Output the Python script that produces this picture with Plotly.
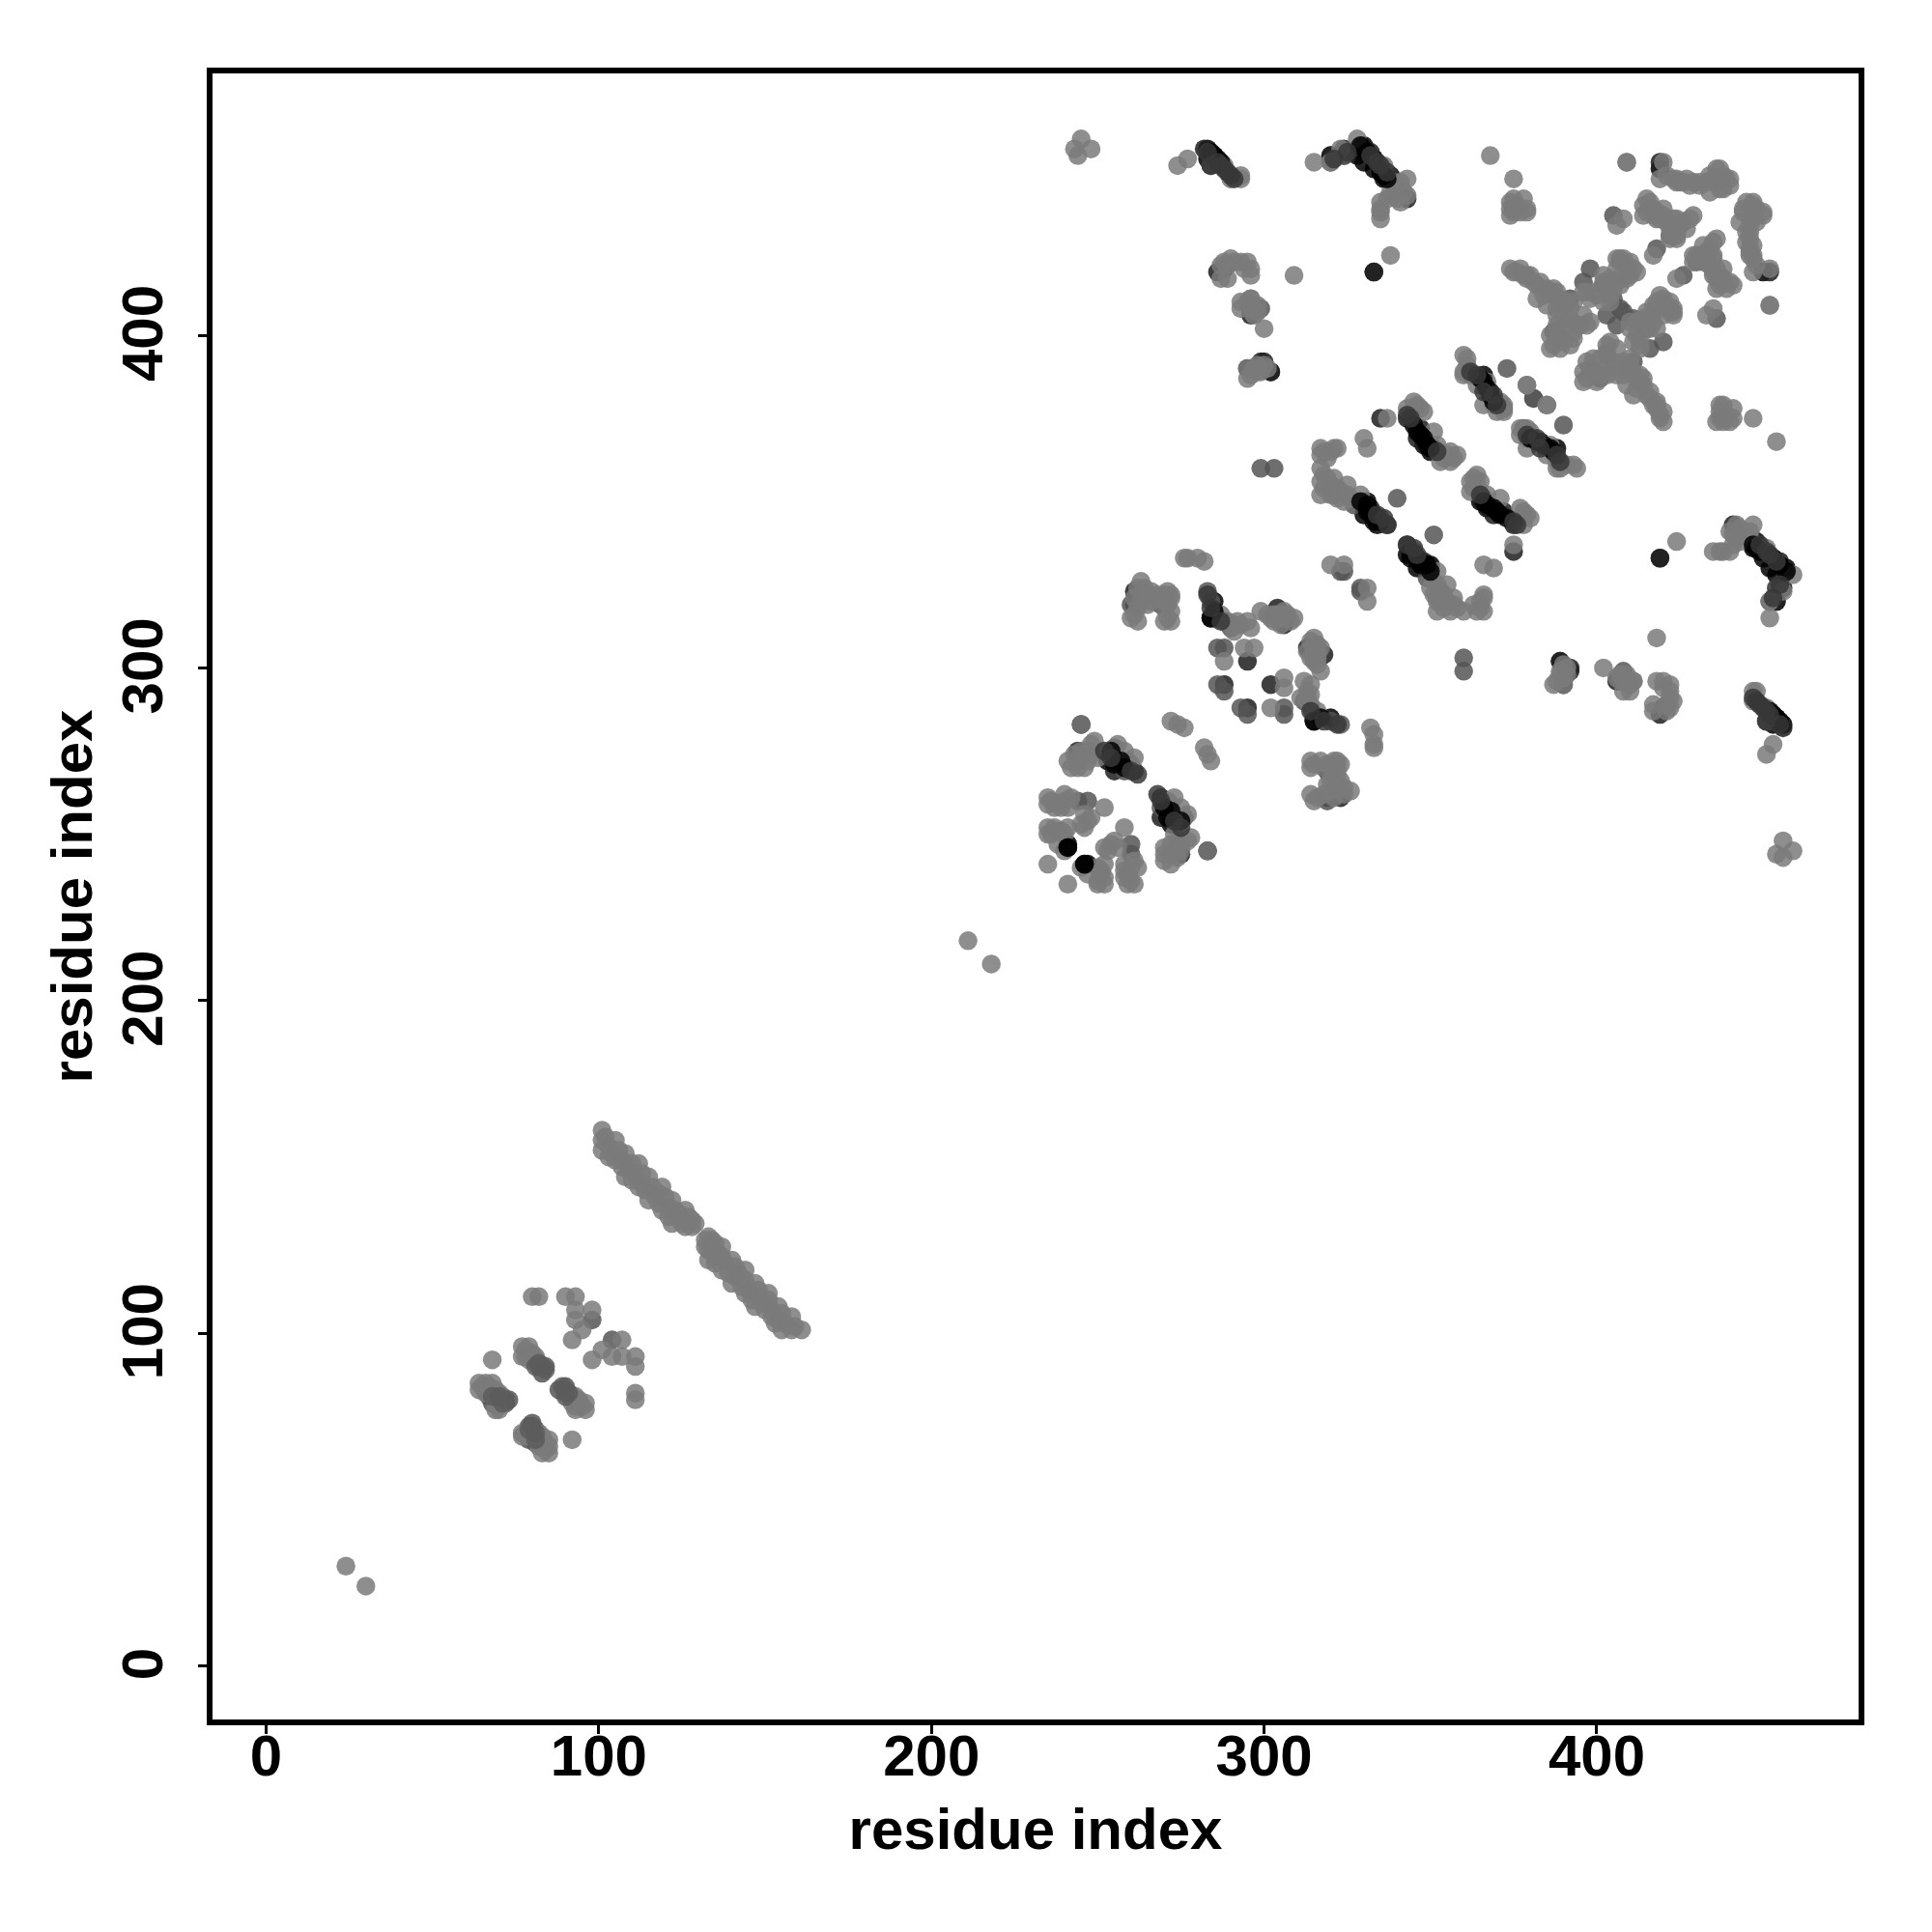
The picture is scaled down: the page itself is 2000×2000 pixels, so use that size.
import plotly.graph_objects as go

tick_values = [0, 100, 200, 300, 400]
axis_title = "residue index"

# Contacts are read from one side of the diagonal; the map is symmetric.
light_i = [24,101,101,101,103,105,105,106,108,108,110,112,112,113,115,115,116,119,119,120,122,122,124,126,125,128,127,
           80,82,90,93,93,98,93,95,92,68,77,79,77,79,80,64,66,68,64,66,69,69,70,
           211,277,280,282,276,263,265,271,271,271,265,260,288,293,295,299,306,309,302,288,294,297,
           245,241,248,247,244,258,261,235,235,240,242,238,252,235,235,241,247,246,235,239,272,274,276,
           248,245,244,243,277,274,288,290,293,293,315,320,323,328,336,339,343,339,343,335,335,335,338,309,
           288,290,293,295,296,296,297,296,300,295,295,297,293,
           317,321,317,330,331,317,317,317,321,325,324,329,335,337,343,346,345,351,352,355,358,353,356,
           360,367,371,366,379,385,320,324,
           368,375,374,375,379,409,419,424,427,431,435,437,440,437,
           416,415,418,423,429,425,423,408,406,417,406,408,411,405,402,402,396,
           374,378,381,385,388,382,391,388,391,395,398,389,386,393,360,360,409,375,379]
light_j = [30,161,158,155,156,158,152,155,154,147,151,151,144,148,147,140,144,144,137,141,140,133,136,137,133,134,135,
           111,111,111,111,107,107,104,101,98,92,96,96,93,92,94,85,85,85,83,83,83,77,78,
           218,333,333,332,333,326,322,323,319,315,319,315,314,313,314,317,317,315,315,302,306,306,
           283,272,277,272,272,275,273,261,259,262,261,259,258,252,250,252,254,252,241,251,284,283,282,
           456,459,454,456,453,451,451,447,447,448,452,452,456,459,451,446,447,442,442,440,437,435,424,418,
           422,423,422,422,418,411,408,411,402,390,387,390,408,
           366,366,364,369,366,360,356,352,357,355,350,352,345,375,378,379,380,371,367,364,364,362,362,
           388,386,380,379,385,379,331,331,
           454,447,440,437,437,452,447,446,447,445,447,450,447,444,
           440,437,437,435,436,433,430,435,433,424,423,423,420,414,416,410,413,
           420,418,416,414,413,411,410,403,403,403,404,396,396,401,394,389,452,438,438]

mid_i = [81,82,84,83,67,70,72,71,73,68,98,
         283,260,284,247,244,286,286,288,286,288,255,258,
         290,284,284,299,303,396,398,402,405,407,
         284,320,324,324,296,299,323,
         321,327,340,378,390,381,
         387,418,422,411,403,436]
mid_j = [92,90,90,88,81,80,79,81,80,79,104,
         323,319,315,260,260,315,306,306,295,293,276,269,
         312,320,451,360,360,416,420,415,411,408,
         451,452,454,329,407,408,329,
         352,349,351,372,373,381,
         401,426,430,392,406,405]

dark_i = [261,261,269,288,295,304,306,285,255,261,244,
          282,324,320,332,333,324,286,288,300,302,296,333,343,
          335,343,347,346,332,337,351,302,299,295,333,419,320]
dark_j = [323,319,319,295,302,318,313,315,269,269,275,
          456,454,454,455,453,456,419,420,392,389,406,419,441,
          375,375,372,369,348,343,366,389,392,390,419,452,454]

black_i = [285,284,241,253,255,285,283,330,328,330,333,338,336,331,330,334,348,350,366,368,288,419,283,245]
black_j = [320,315,247,272,272,454,453,457,454,452,450,448,447,350,346,343,367,365,388,383,420,450,456,283]

extra_light = [
    (102,159),(103,153),(104,154),(107,152),(107,150),(109,149),(110,146),(111,148),(113,145),(114,143),
    (117,141),(118,142),(118,139),(121,138),(123,137),(121,135),(123,135),(126,134),(126,132),(129,133),(128,132),
    (65,84),(67,84),(66,82),(68,82),(69,81),(70,82),(69,79),(70,77),(78,95),(78,93),(79,94),(80,92),(81,93),
    (236,260),(237,258),(239,258),(240,260),(241,258),(237,252),(236,250),(238,251),(240,250),(245,253),(248,255),(246,256),(238,247),(240,245),
    (242,270),(243,274),(245,275),(246,274),(247,275),(249,278),(248,274),(250,273),(244,270),(246,270),(256,277),(259,272),(260,271),
    (262,324),(261,321),(262,318),(264,324),(266,323),(268,322),(270,322),(272,322),(272,321),(270,318),(272,317),(270,314),(272,314),(261,316),(262,314),(263,320),(266,320),(270,320),
    (287,316),(289,314),(291,313),(292,314),(296,312),(291,311),(301,316),(303,316),(304,316),(305,315),(307,316),(305,313),(303,314),(308,314),(306,316),
    (318,365),(320,365),(319,363),(322,366),(318,358),(319,357),(320,355),(322,354),(323,353),(325,352),(326,351),(318,354),(320,352),(322,351),
    (354,363),(356,365),(357,363),(345,378),(347,378),(348,377),(361,391),(362,388),(364,385),(369,379),(370,377),(372,377),(372,379),(361,393),
    (287,421),(289,421),(291,422),(294,420),(296,420),(289,417),(287,417),(296,409),(298,407),(295,410),(297,406),(296,388),(298,389),(299,389),(300,391),(301,390),(298,391),
    (335,438),(337,441),(338,443),(340,441),(341,446),(342,443),(341,440),(374,438),(376,439),(377,437),(375,441),(378,441),(374,436),(293,410),(296,408),(298,409),
    (376,419),(377,420),(379,417),(380,418),(382,415),(383,416),(384,412),(386,413),(387,412),(389,411),(390,409),(392,408),(390,406),(392,405),(388,406),(386,400),(389,399),(390,398),(392,397),(387,397),(394,403),(396,406),(388,408),(385,409),
    (403,414),(404,412),(404,417),(406,416),(407,415),(408,418),(409,417),(406,420),(407,422),(409,421),(410,422),(412,419),(400,412),(398,411),(399,413),
    (414,436),(416,438),(417,436),(419,435),(420,438),(421,434),(422,433),(424,432),(426,434),(424,431),(427,432),(422,429),(424,429),(428,435),
    (420,452),(421,448),(423,447),(425,446),(429,446),(433,446),(434,448),(436,446),(436,450),(438,448),(438,444),(440,445),(439,447),
    (431,446),(424,447),(426,446),(428,445),(434,443),(424,430),(417,438),(414,439),(415,441),(424,435),(418,435),(420,436),(422,432),
    (393,410),(387,414),(379,418),(375,419),(397,403),(393,399),(388,401),(397,413),(402,418),(407,423),(410,418),(404,410),
]

low_core = [(70,81),(71,79),(72,80),(68,81),(82,91),(83,90),(84,89),(81,90)]

core_mid = [
    (283,455),(286,452),(287,451),(288,450),(289,449),(290,448),(291,447),(284,451),
    (332,454),(334,452),(335,451),(337,449),(325,455),(321,453),
    (334,346),(336,345),(337,343),(343,376),(344,375),(352,365),
    (362,389),(364,388),(366,383),(369,382),(370,379),
    (252,275),(254,273),(260,269),(262,268),(284,318),(283,322),(287,314),
]

core_black = [
    (284,455),(285,454),(286,453),(287,452),(329,457),(331,455),(333,453),(335,449),(336,448),(337,447),
    (329,350),(331,349),(332,347),(333,346),(334,345),(335,344),(333,344),(331,347),
    (345,373),(346,371),(347,370),(348,369),(349,367),(350,366),
    (365,387),(366,386),(367,384),(368,382),(369,380),
    (254,275),(255,271),(257,272),(258,270),(241,246),(246,241),(285,317),(284,315),
]

def unpack(pairs):
    return [p[0] for p in pairs], [p[1] for p in pairs]

groups = [
    (black_i, black_j, "#000000"),
    (dark_i, dark_j, "#1d1d1d"),
    (mid_i, mid_j, "#555555"),
    (*unpack(extra_light), "#7a7a7a"),
    (light_i, light_j, "#7a7a7a"),
    (*unpack(low_core), "#5c5c5c"),
    (*unpack(core_black), "#000000"),
    (*unpack(core_mid), "#373737"),
]

fig = go.Figure()
for gi, gj, colour in groups:
    fig.add_trace(go.Scatter(x=gi + gj, y=gj + gi, mode="markers",
                             marker=dict(size=19.5, color=colour, line=dict(width=0), opacity=0.85),
                             showlegend=False, hoverinfo="skip"))

font_name = "Liberation Sans"
axis_common = dict(
    range=[-16.1, 478.7], tickmode="array", tickvals=tick_values,
    ticktext=[str(t) for t in tick_values],
    ticks="outside", ticklen=9, tickwidth=3, tickcolor="black",
    showline=True, linewidth=6, linecolor="black", mirror=True,
    showgrid=False, zeroline=False,
    tickfont=dict(family=font_name, size=60, color="black", weight="bold"),
    title=dict(text=axis_title, font=dict(family=font_name, size=60, color="black", weight="bold")),
)
fig.update_xaxes(**axis_common, ticklabelstandoff=-29, title_standoff=24)
fig.update_yaxes(**axis_common, tickangle=-90, ticklabelstandoff=13, ticklabelshift=7, title_standoff=1)
fig.update_layout(width=2000, height=2000, paper_bgcolor="white", plot_bgcolor="white",
                  margin=dict(l=212, r=84, t=68, b=228, autoexpand=False),
                  font=dict(family=font_name))
fig.write_html("out.html")
